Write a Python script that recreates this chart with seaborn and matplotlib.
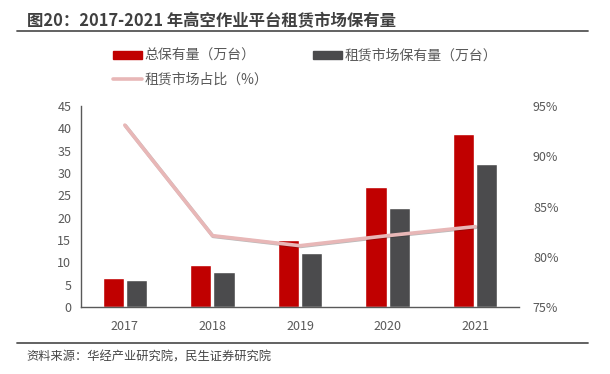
import pandas as pd
import matplotlib.pyplot as plt
import seaborn as sns
from matplotlib.patches import Patch
from matplotlib.lines import Line2D
import matplotlib.patheffects as pe

years = ['2017', '2018', '2019', '2020', '2021']
total_stock = [6.5, 9.5, 15.0, 26.9, 38.7]
rental_stock = [6.0, 7.8, 12.1, 22.2, 32.0]
rental_share = [93.1, 82.1, 81.1, 82.1, 83.0]

s1 = '总保有量（万台）'
s2 = '租赁市场保有量（万台）'
s3 = '租赁市场占比（%）'

df = pd.DataFrame({
    'year': years * 2,
    'value': total_stock + rental_stock,
    'series': [s1] * len(years) + [s2] * len(years),
})

sns.set_theme(style='white')
plt.rcParams['font.family'] = ['Noto Sans CJK SC', 'DejaVu Sans']

red = '#c00000'
gray = '#4b4b4d'
pink = '#e8b7b7'
tick_color = '#595959'

fig = plt.figure(figsize=(6.1, 3.74), dpi=100)
ax = fig.add_axes([0.1328, 0.1791, 0.7180, 0.5375])

sns.barplot(data=df, x='year', y='value', hue='series', palette=[red, gray],
            saturation=1, width=0.53, gap=0.08, ax=ax, legend=False)
ax.set_ylim(0, 45)
ax.set_yticks(range(0, 46, 5))
ax.set_xlim(-0.5, 4.5)
ax.set_xlabel('')
ax.set_ylabel('')
for sp in ['top', 'right']:
    ax.spines[sp].set_visible(False)
for sp in ['left', 'bottom']:
    ax.spines[sp].set_color('#595959')
    ax.spines[sp].set_linewidth(1)
ax.tick_params(axis='both', length=0, labelsize=9, colors=tick_color)
ax.tick_params(axis='x', pad=9)
ax.tick_params(axis='y', pad=7)

ax2 = ax.twinx()
sns.lineplot(x=list(range(len(years))), y=rental_share, ax=ax2, color=pink, linewidth=2.6,
             path_effects=[pe.SimpleLineShadow(offset=(0.5, -0.5), alpha=0.3), pe.Normal()])
ax2.set_ylim(75, 95)
ax2.set_yticks([75, 80, 85, 90, 95])
ax2.set_yticklabels([f'{v}%' for v in [75, 80, 85, 90, 95]])
for sp in ax2.spines.values():
    sp.set_visible(False)
ax2.tick_params(axis='y', length=0, labelsize=9, colors=tick_color, pad=10)

# Title, rules and source
fig.text(0.044, 0.944, '图20：2017-2021 年高空作业平台租赁市场保有量', fontsize=11.8,
         fontweight='bold', color='#404040', va='center')
fig.add_artist(Line2D([0.028, 0.964], [0.917, 0.917], color='#555555', linewidth=1.3))
fig.add_artist(Line2D([0.028, 0.964], [0.083, 0.083], color='#555555', linewidth=1.3))
fig.text(0.044, 0.045, '资料来源：华经产业研究院，民生证券研究院', fontsize=8.8,
         color='#444444', va='center')

handles = [Patch(color=red), Line2D([0], [0], color=pink, linewidth=2.6),
           Patch(color=gray)]
fig.legend(handles, [s1, s3, s2], ncol=2, loc='upper left',
           bbox_to_anchor=(0.185, 0.87), frameon=False, fontsize=10,
           labelcolor='#595959', handlelength=2.1, handleheight=0.55,
           handletextpad=0.2, columnspacing=3.2, labelspacing=0.75,
           borderpad=0, borderaxespad=0)

fig.savefig('out.png', dpi=100)
